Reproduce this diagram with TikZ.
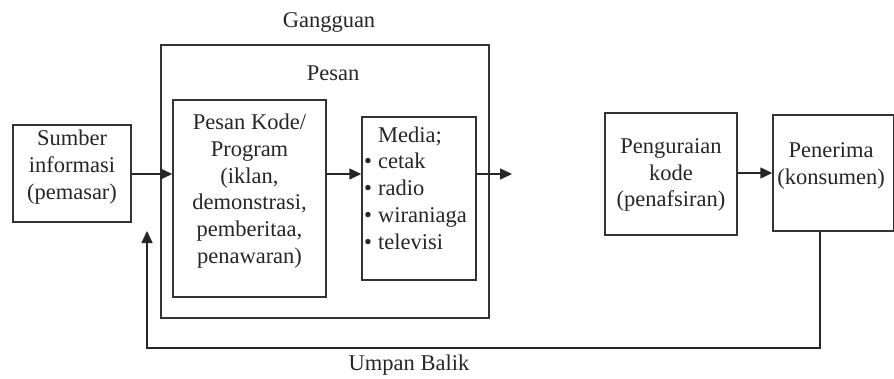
\documentclass[tikz,border=0pt]{standalone}
\usepackage{fontspec}
\setmainfont{Liberation Serif}
\usetikzlibrary{arrows.meta}
\begin{document}
\begin{tikzpicture}[x=1pt,y=-1pt,
  box/.style={draw=black!80,line width=1.5pt,rectangle,inner sep=0pt},
  lbl/.style={align=center,font=\fontsize{22.5}{26.8}\selectfont,inner sep=0pt,text=black!85},
  conn/.style={line width=1.5pt,black!85,-{Triangle[length=12pt,width=11pt]}}]
\useasboundingbox (0,0) rectangle (894,378);
% boxes
\node[box,minimum width=118pt,minimum height=97pt] (sumber) at (72,173.5) {};
\node[box,minimum width=328pt,minimum height=273pt] (outer) at (325,181.5) {};
\node[box,minimum width=153pt,minimum height=197pt] (kode) at (249.5,198.5) {};
\node[box,minimum width=114pt,minimum height=163pt] (media) at (419,198.5) {};
\node[box,minimum width=132pt,minimum height=122pt] (urai) at (671,174) {};
\node[box,minimum width=121pt,minimum height=116pt] (terima) at (833.5,173) {};
% texts
\node[lbl] (tsumber) at (72,167) {Sumber\\informasi\\(pemasar)};
\node[lbl] (tgang) at (329,22) {Gangguan};
\node[lbl] (tpesan) at (333,73) {Pesan};
\node[lbl] (tkode) at (249.5,191) {Pesan Kode/\\Program\\(iklan,\\demonstrasi,\\pemberitaa,\\penawaran)};
\node[lbl,align=left,anchor=west] (tmedia) at (364,188) {\hspace{14pt}Media;\\\makebox[14pt][l]{\textbullet}cetak\\\makebox[14pt][l]{\textbullet}radio\\\makebox[14pt][l]{\textbullet}wiraniaga\\\makebox[14pt][l]{\textbullet}televisi};
\node[lbl] (turai) at (671,175) {Penguraian\\kode\\(penafsiran)};
\node[lbl] (tterima) at (831,166) {Penerima\\(konsumen)};
\node[lbl] (tumpan) at (409,365) {Umpan Balik};
% connectors
\coordinate (y0) at (0,174);
\coordinate (out) at (512,174);
\coordinate (fb1) at (820,348);
\coordinate (fb2) at (147,348);
\coordinate (fbtip) at (147,231);
\draw[conn] (sumber.east |- y0) -- (kode.west |- y0);
\draw[conn] (kode.east |- y0) -- (media.west |- y0);
\draw[conn] (media.east |- y0) -- (out);
\draw[conn] (urai.east |- terima.west) -- (terima.west);
\draw[conn] (terima.south -| fb1) -- (fb1) -- (fb2) -- (fbtip);
\end{tikzpicture}
\end{document}
